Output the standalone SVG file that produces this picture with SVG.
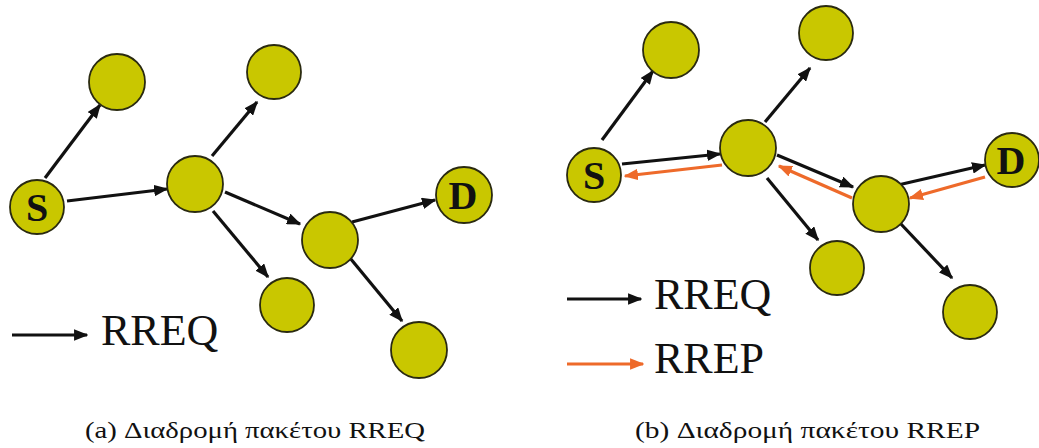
<svg xmlns="http://www.w3.org/2000/svg" width="1039" height="448" viewBox="0 0 1039 448">
<style>
.n{fill:#C9C700;stroke:#2a2a10;stroke-width:1.8}
.e{stroke:#111;stroke-width:3.2;fill:none;marker-end:url(#ab)}
.o{stroke:#EE6A2A;stroke-width:3.2;fill:none;marker-end:url(#ao)}
.lb{font-family:"Liberation Serif",serif;font-weight:bold;font-size:40px;fill:#111;text-anchor:middle}
.lg{font-family:"Liberation Serif",serif;font-size:44px;fill:#111}
.cap{font-family:"Liberation Serif",serif;font-size:24px;fill:#111}
</style>
<defs>
<marker id="ab" viewBox="0 0 10 8" refX="9" refY="4" markerWidth="4.5" markerHeight="3.6" orient="auto"><path d="M0,0 L10,4 L0,8 Z" fill="#111"/></marker>
<marker id="ao" viewBox="0 0 10 8" refX="9" refY="4" markerWidth="4.5" markerHeight="3.6" orient="auto"><path d="M0,0 L10,4 L0,8 Z" fill="#EE6A2A"/></marker>
</defs>
<rect width="1039" height="448" fill="#fff"/>
<g id="connectors">
<line class="e" x1="45" y1="178" x2="100" y2="105"/>
<line class="e" x1="67" y1="201" x2="167" y2="189"/>
<line class="e" x1="212" y1="156" x2="257" y2="102"/>
<line class="e" x1="225" y1="192" x2="300" y2="224"/>
<line class="e" x1="213" y1="211" x2="268" y2="277"/>
<line class="e" x1="352" y1="222" x2="435" y2="200"/>
<line class="e" x1="350" y1="258" x2="402" y2="321"/>
<line class="e" x1="12" y1="335" x2="87" y2="335"/>
<line class="e" x1="602" y1="140" x2="653" y2="71"/>
<line class="e" x1="622" y1="164" x2="720" y2="154"/>
<line class="e" x1="765" y1="122" x2="810" y2="68"/>
<line class="e" x1="777" y1="155" x2="853" y2="187"/>
<line class="e" x1="767" y1="178" x2="818" y2="240"/>
<line class="e" x1="898" y1="185" x2="985" y2="165"/>
<line class="e" x1="900" y1="223" x2="952" y2="278"/>
<line class="o" x1="722" y1="165" x2="625" y2="176"/>
<line class="o" x1="852" y1="198" x2="779" y2="166"/>
<line class="o" x1="985" y1="177" x2="910" y2="198"/>
<line class="e" x1="567" y1="299" x2="641" y2="299"/>
<line class="o" x1="567" y1="364" x2="643" y2="364"/>
</g>
<g id="a-S"><circle class="n" cx="37" cy="207" r="27"/><text class="lb" x="37" y="221">S</text></g>
<g id="a-n1"><circle class="n" cx="117" cy="82" r="28"/></g>
<g id="a-A"><circle class="n" cx="195" cy="184" r="28"/></g>
<g id="a-n2"><circle class="n" cx="274" cy="72" r="27"/></g>
<g id="a-B"><circle class="n" cx="330" cy="240" r="28"/></g>
<g id="a-D"><circle class="n" cx="464" cy="195" r="28"/><text class="lb" x="463" y="209">D</text></g>
<g id="a-n3"><circle class="n" cx="287" cy="305" r="27"/></g>
<g id="a-n4"><circle class="n" cx="419" cy="350" r="28"/></g>
<g id="b-S"><circle class="n" cx="594" cy="175" r="27"/><text class="lb" x="594" y="189">S</text></g>
<g id="b-n1"><circle class="n" cx="671" cy="50" r="28"/></g>
<g id="b-A"><circle class="n" cx="748" cy="148" r="28"/></g>
<g id="b-n2"><circle class="n" cx="826" cy="33" r="27"/></g>
<g id="b-B"><circle class="n" cx="881" cy="204" r="28"/></g>
<g id="b-D"><circle class="n" cx="1012" cy="160" r="27"/><text class="lb" x="1011" y="174">D</text></g>
<g id="b-n3"><circle class="n" cx="837" cy="268" r="27"/></g>
<g id="b-n4"><circle class="n" cx="970" cy="312" r="27"/></g>
<g id="legend">
<text class="lg" x="101" y="345">RREQ</text>
<text class="lg" x="654" y="309">RREQ</text>
<text class="lg" x="654" y="373">RREP</text>
</g>
<g id="captions">
<text class="cap" x="85" y="438" textLength="340" lengthAdjust="spacingAndGlyphs">(a)  Διαδρομή πακέτου RREQ</text>
<text class="cap" x="635" y="438" textLength="345" lengthAdjust="spacingAndGlyphs">(b)  Διαδρομή πακέτου RREP</text>
</g>
</svg>
